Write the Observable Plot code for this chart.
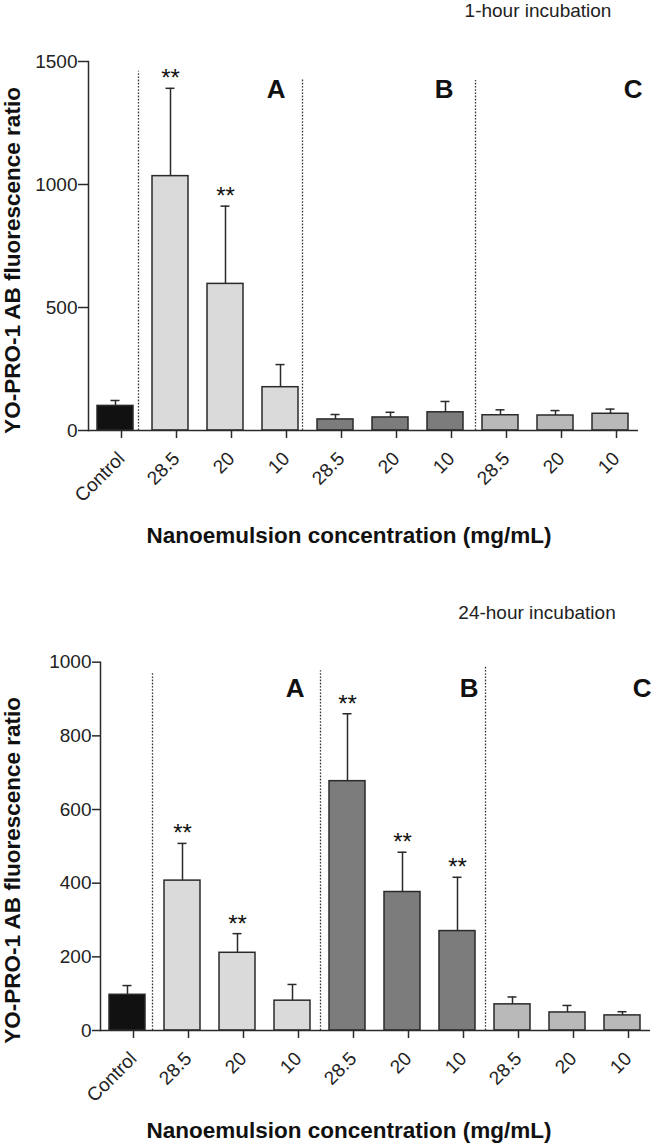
<!DOCTYPE html>
<html><head><meta charset="utf-8">
<script src="https://cdn.jsdelivr.net/npm/d3@7"></script>
<script src="https://cdn.jsdelivr.net/npm/@observablehq/plot@0.6"></script>
<style>
body{margin:0;background:#fff}
#chart{width:651px;height:1145px;position:relative}
#chart svg{display:block}
</style>
</head><body><div id="chart"></div>
<script>
// ---- data ----
const categories = ["Control","A 28.5","A 20","A 10","B 28.5","B 20","B 10","C 28.5","C 20","C 10"];
const tickLabels = ["Control","28.5","20","10","28.5","20","10","28.5","20","10"];
const groups = ["Control","A","A","A","B","B","B","C","C","C"];
const groupNames = ["A","B","C"];
const groupLastCat = ["A 10","B 10","C 10"];

const hour1Mean = [100, 1034, 596, 176, 45, 53, 74, 62, 61, 68];
const hour1Err  = [22, 357, 316, 92, 20, 21, 44, 22, 20, 19];
const hour1Sig  = [false, true, true, false, false, false, false, false, false, false];
const hour1Ticks = [0, 500, 1000, 1500];
const hour1DividerTop = [1460, 1428, 1423];

const hour24Mean = [97, 407, 211, 81, 677, 376, 270, 71, 49, 41];
const hour24Err  = [25, 101, 52, 44, 183, 108, 146, 20, 19, 10];
const hour24Sig  = [false, true, true, false, true, true, true, false, false, false];
const hour24Ticks = [0, 200, 400, 600, 800, 1000];
const hour24DividerTop = [969, 977, 986];

const dividerCats = ["A 28.5","B 28.5","C 28.5"];

const yLabel = "YO-PRO-1 AB fluorescence ratio";
const xLabel = "Nanoemulsion concentration (mg/mL)";

// ---- helpers ----
const ink = "#2a2a2a";
const font = "'Liberation Sans', Arial, Helvetica, sans-serif";
const groupColor = {domain: ["Control","A","B","C"], range: ["#111111","#dadada","#7c7c7c","#b9b9b9"]};

function rows(mean, err, sig) {
  return categories.map((c, i) => ({cat: c, group: groups[i], mean: mean[i], upper: mean[i] + err[i], sig: sig[i]}));
}

function chart(cfg) {
  const data = rows(cfg.mean, cfg.err, cfg.sig);
  const divs = dividerCats.map((c, i) => ({cat: c, top: cfg.dividerTop[i]}));
  const labels = groupNames.map((g, i) => ({cat: groupLastCat[i], text: g}));
  return Plot.plot({
    width: 651,
    height: cfg.height,
    marginLeft: cfg.ml,
    marginRight: cfg.mr,
    marginTop: cfg.mt,
    marginBottom: cfg.mb,
    style: {fontFamily: font, fontSize: "19px", color: "#222", background: "#fff"},
    x: {domain: categories, paddingInner: 0.345, paddingOuter: 0.1725, label: null},
    y: {domain: cfg.domain, label: null},
    color: groupColor,
    marks: [
      Plot.frame({anchor: "left", stroke: ink, strokeWidth: 1.5}),
      ...divs.map((d, i) => Plot.ruleX([d], {x: "cat", y1: 0, y2: "top", dx: cfg.divDx[i], stroke: "#333", strokeWidth: 1.3, strokeDasharray: "1.6,1.6"})),
      Plot.ruleX(data, {x: "cat", y1: "mean", y2: "upper", stroke: ink, strokeWidth: 1.5}),
      Plot.tickY(data, {x: "cat", y: "upper", insetLeft: 13.5, insetRight: 13.5, stroke: ink, strokeWidth: 1.5}),
      Plot.barY(data, {x: "cat", y: "mean", fill: "group", stroke: ink, strokeWidth: 1.5}),
      Plot.ruleY([0], {stroke: ink, strokeWidth: 1.5}),
      Plot.axisY({ticks: cfg.ticks, tickSize: cfg.ytick, tickPadding: 1, tickFormat: d => String(d), label: null, stroke: ink, strokeWidth: 1.5}),
      Plot.axisX({tickSize: 8, tickPadding: 17, dx: 6, tickRotate: -45, tickFormat: d => tickLabels[categories.indexOf(d)], label: null, stroke: ink, strokeWidth: 1.5}),
      Plot.text(data.filter(d => d.sig), {x: "cat", y: "upper", text: () => "**", dy: -2, lineAnchor: "bottom", fontSize: 24, fill: "#111"}),
      ...labels.map((d, i) => Plot.text([d], {x: "cat", text: "text", frameAnchor: "top", dx: cfg.labDx[i], dy: cfg.labDy, textAnchor: "end", lineAnchor: "bottom", fontSize: 26, fontWeight: "bold", fill: "#111"})),
      Plot.text([cfg.title], {frameAnchor: "top", dx: cfg.titleDx, dy: cfg.titleDy, lineAnchor: "middle", fontSize: 19, fill: "#222"}),
      Plot.text([xLabel], {frameAnchor: "bottom", dx: cfg.xlDx, dy: cfg.xlDy, textAnchor: "middle", lineAnchor: "middle", fontSize: 22.5, fontWeight: "bold", fill: "#111"}),
      Plot.text([yLabel], {frameAnchor: "left", dx: cfg.ylDx, dy: cfg.ylDy, rotate: -90, textAnchor: "middle", lineAnchor: "middle", fontSize: 22.5, fontWeight: "bold", fill: "#111"})
    ]
  });
}

const top1 = chart({
  mean: hour1Mean, err: hour1Err, sig: hour1Sig, domain: [0, 1500], ticks: hour1Ticks, dividerTop: hour1DividerTop,
  height: 560, ml: 88, mr: 13, mt: 61, mb: 130, ytick: 10,
  divDx: [-32, -33, -25], labDx: [5, 8, 32], labDy: 36,
  title: "1-hour incubation", titleDx: 174.5, titleDy: -51,
  xlDx: -14.5, xlDy: 105, ylDx: -75.5, ylDy: 14.5
});
const bottom1 = chart({
  mean: hour24Mean, err: hour24Err, sig: hour24Sig, domain: [0, 1000], ticks: hour24Ticks, dividerTop: hour24DividerTop,
  height: 585, ml: 100, mr: 1, mt: 101.7, mb: 115, ytick: 8,
  divDx: [-30, -27, -27], labDx: [12, 21, 29], labDy: 35,
  title: "24-hour incubation", titleDx: 161.5, titleDy: -49.7,
  xlDx: -26.5, xlDy: 100, ylDx: -88, ylDy: 24
});
const el = document.getElementById("chart");
el.appendChild(top1);
el.appendChild(bottom1);
</script>
</body></html>
